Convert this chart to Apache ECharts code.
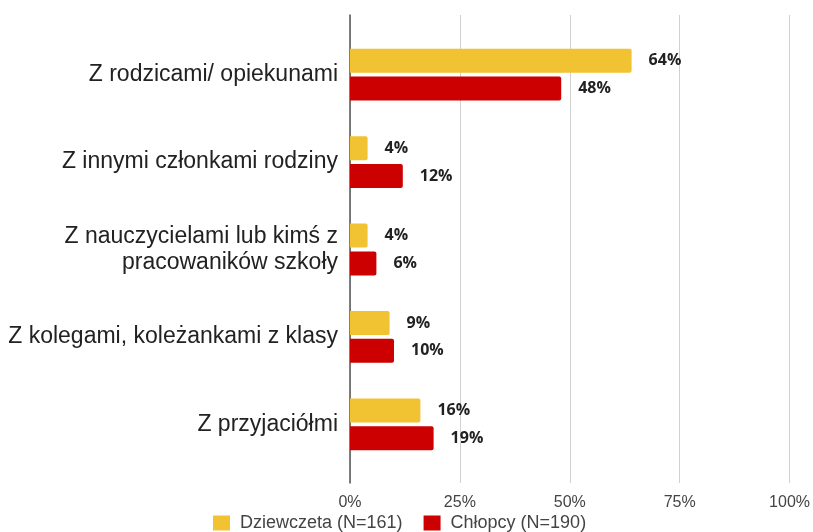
<!DOCTYPE html>
<html>
<head>
<meta charset="utf-8">
<script src="https://cdn.jsdelivr.net/npm/echarts@6/dist/echarts.min.js"></script>
<style>
  html, body { margin: 0; padding: 0; background: #fff; }
  #chart { width: 813px; height: 532px; }
</style>
</head>
<body>
<div id="chart"></div>
<script>
  const categories = [
    "Z rodzicami/ opiekunami",
    "Z innymi członkami rodziny",
    "Z nauczycielami lub kimś z\npracowaników szkoły",
    "Z kolegami, koleżankami z klasy",
    "Z przyjaciółmi"
  ];
  const girls = [64, 4, 4, 9, 16];
  const boys = [48, 12, 6, 10, 19];
  const seriesNames = ["Dziewczeta (N=161)", "Chłopcy (N=190)"];
  const ticks = [0, 25, 50, 75, 100];

  var myChart = echarts.init(document.getElementById("chart"));

  const barLabel = {
    show: true,
    position: "right",
    distance: 17,
    formatter: "{c}%",
    fontFamily: "Open Sans",
    fontWeight: "bold",
    fontSize: 16,
    color: "#222"
  };

  var option = {
    animation: false,
    color: ["#F1C232", "#CC0000"],
    legend: {
      data: seriesNames,
      left: 208,
      top: 509,
      itemWidth: 17,
      itemHeight: 15,
      itemGap: 21,
      icon: "rect",
      textStyle: { fontFamily: "Liberation Sans", fontSize: 18, color: "#444", padding: [0, 0, 0, 5] }
    },
    grid: [
      // bars
      { left: 350, right: 23, top: 31, height: 437 },
      // axis frame (line + grid lines + tick labels)
      { left: 350, right: 23, top: 15, height: 468 }
    ],
    xAxis: [
      {
        gridIndex: 0,
        type: "value",
        min: 0,
        max: 100,
        interval: 25,
        show: false,
        splitLine: { show: false }
      },
      {
        gridIndex: 1,
        type: "value",
        min: ticks[0],
        max: ticks[ticks.length - 1],
        interval: 25,
        axisLine: { show: false },
        axisTick: { show: false },
        axisLabel: {
          formatter: "{value}%",
          fontFamily: "Liberation Sans",
          fontSize: 16,
          color: "#444",
          margin: 12
        },
        splitLine: { show: true, lineStyle: { color: "#d0d0d0", width: 1 } }
      }
    ],
    yAxis: [
      {
        gridIndex: 0,
        type: "category",
        data: categories,
        inverse: true,
        axisLine: { show: false },
        axisTick: { show: false },
        axisLabel: {
          fontFamily: "Liberation Sans",
          fontSize: 23,
          color: "#222",
          margin: 12,
          lineHeight: 26,
          align: "right"
        }
      },
      {
        gridIndex: 1,
        type: "value",
        min: 0,
        max: 1,
        axisLine: { show: true, onZero: false, lineStyle: { color: "#555", width: 1.5 } },
        axisTick: { show: false },
        axisLabel: { show: false },
        splitLine: { show: false }
      }
    ],
    series: [
      {
        name: seriesNames[0],
        type: "bar",
        xAxisIndex: 0,
        yAxisIndex: 0,
        data: girls,
        barWidth: 24,
        barGap: "16%",
        itemStyle: { borderRadius: [0, 2, 2, 0] },
        label: barLabel
      },
      {
        name: seriesNames[1],
        type: "bar",
        xAxisIndex: 0,
        yAxisIndex: 0,
        data: boys,
        barWidth: 24,
        barGap: "16%",
        itemStyle: { borderRadius: [0, 2, 2, 0] },
        label: barLabel
      }
    ]
  };

  myChart.setOption(option);
</script>
</body>
</html>
